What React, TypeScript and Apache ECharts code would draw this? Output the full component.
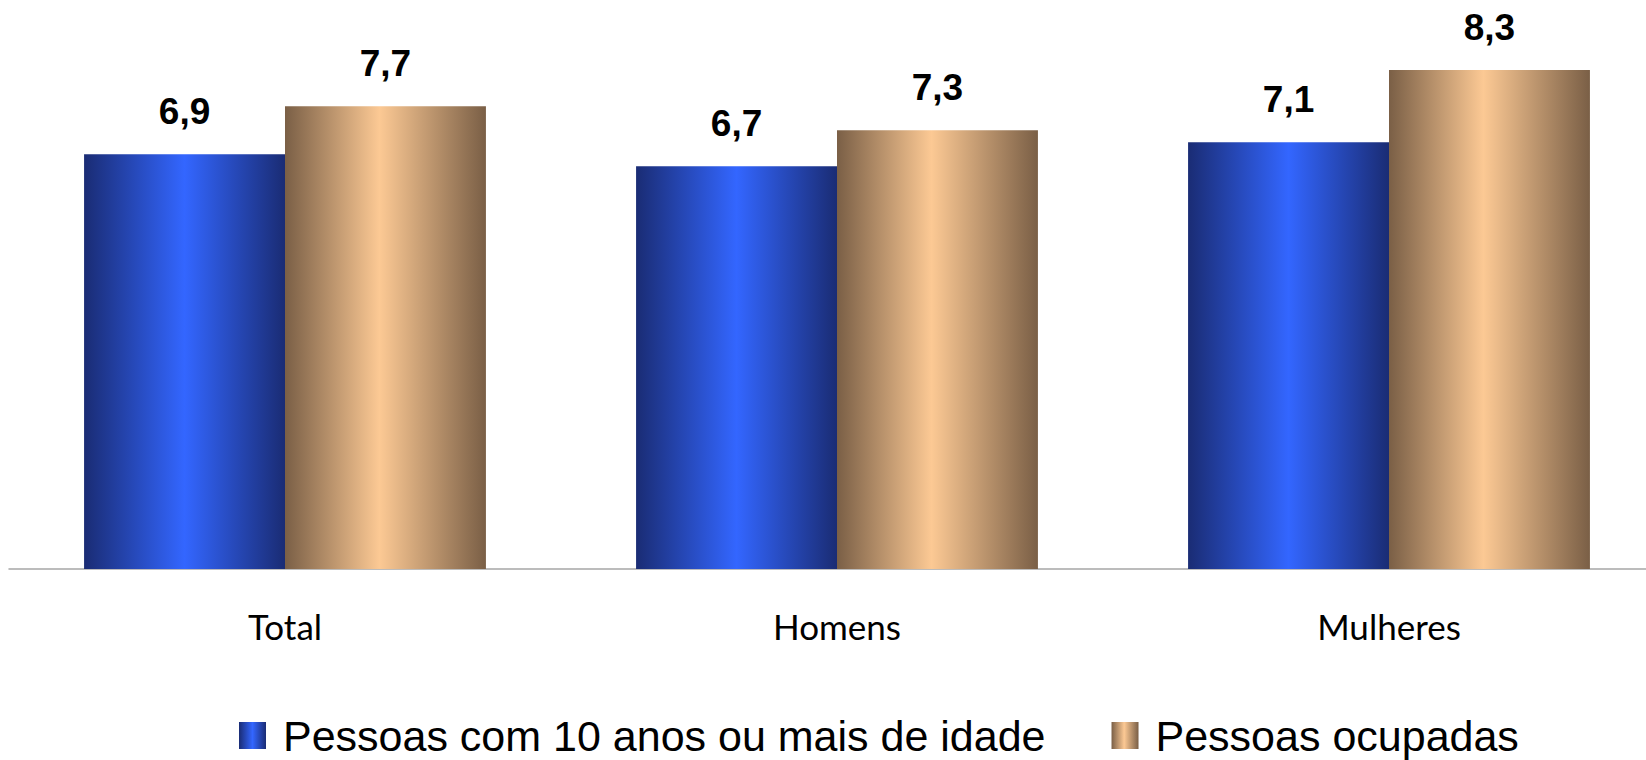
import React, { useEffect, useRef } from "react";
import * as echarts from "echarts";

const categories = ["Total", "Homens", "Mulheres"];
const seriesNames = ["Pessoas com 10 anos ou mais de idade", "Pessoas ocupadas"];
const idade10 = [6.9, 6.7, 7.1];
const ocupadas = [7.7, 7.3, 8.3];

const fmt = (v: number) => v.toFixed(1).replace(".", ",");

const blueGrad = new echarts.graphic.LinearGradient(0, 0, 1, 0, [
  { offset: 0, color: "#1a2c74" },
  { offset: 0.5, color: "#3366ff" },
  { offset: 1, color: "#1a2c74" },
]);
const tanGrad = new echarts.graphic.LinearGradient(0, 0, 1, 0, [
  { offset: 0, color: "#7a5f46" },
  { offset: 0.47, color: "#fcc994" },
  { offset: 1, color: "#7a5f46" },
]);

export default function App() {
  const ref = useRef<HTMLDivElement>(null);
  useEffect(() => {
    if (!ref.current) return;
    const chart = echarts.init(ref.current, undefined, { renderer: "svg" });
    const label = {
      show: true,
      position: "top" as const,
      distance: 24,
      formatter: (p: any) => fmt(p.value),
      fontFamily: "'Liberation Sans', Arial, sans-serif",
      fontWeight: "bold" as const,
      fontSize: 37,
      color: "#000",
    };
    chart.setOption({
      animation: false,
      backgroundColor: "#ffffff",
      grid: { left: 9, right: 0, top: 28, bottom: 191, containLabel: false },
      legend: {
        left: 239,
        top: 714,
        padding: 0,
        itemWidth: 27,
        itemHeight: 27,
        itemGap: 66,
        icon: "rect",
        textStyle: {
          fontFamily: "'Liberation Sans', Arial, sans-serif",
          fontSize: 43,
          lineHeight: 43,
          color: "#000",
          padding: [0, 0, 0, 12],
        },
        data: seriesNames,
      },
      xAxis: {
        type: "category",
        data: categories,
        axisLine: { show: true, lineStyle: { color: "#a6a6a6", width: 1.5 } },
        axisTick: { show: false },
        axisLabel: {
          margin: 39,
          fontFamily: "Lato, 'Open Sans', sans-serif",
          fontSize: 35,
          color: "#000",
        },
      },
      yAxis: {
        type: "value",
        min: 0,
        max: 9,
        show: false,
        splitLine: { show: false },
      },
      series: [
        {
          name: seriesNames[0],
          type: "bar",
          data: idade10,
          barGap: "0%",
          barCategoryGap: "27.2%",
          itemStyle: { color: blueGrad },
          label,
        },
        {
          name: seriesNames[1],
          type: "bar",
          data: ocupadas,
          barGap: "0%",
          barCategoryGap: "27.2%",
          itemStyle: { color: tanGrad },
          label,
        },
      ],
    });
    return () => chart.dispose();
  }, []);
  return (
    <div
      style={{
        position: "absolute",
        left: 0,
        top: 0,
        width: 1646,
        height: 760,
        overflow: "hidden",
      }}
    >
      <div ref={ref} style={{ width: 1665, height: 760 }} />
    </div>
  );
}
